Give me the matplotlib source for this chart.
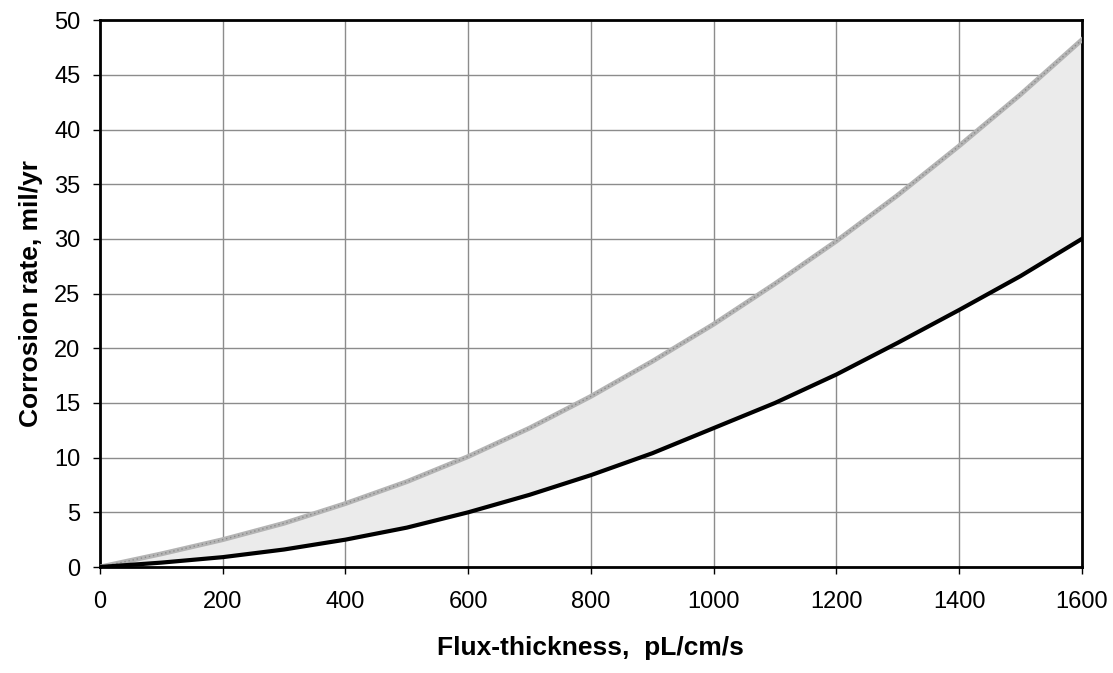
import numpy as np
import matplotlib.pyplot as plt

# Flux-thickness vs corrosion rate band
flux = [0, 100, 200, 300, 400, 500, 600, 700, 800, 900, 1000, 1100, 1200, 1300, 1400, 1500, 1600]
upper = [0, 1.2, 2.5, 4.0, 5.8, 7.8, 10.1, 12.7, 15.6, 18.8, 22.2, 25.9, 29.8, 34.0, 38.5, 43.2, 48.2]
lower = [0, 0.4, 0.9, 1.6, 2.5, 3.6, 5.0, 6.6, 8.4, 10.4, 12.7, 15.0, 17.6, 20.5, 23.5, 26.6, 30.0]

xticks = [0, 200, 400, 600, 800, 1000, 1200, 1400, 1600]
yticks = [0, 5, 10, 15, 20, 25, 30, 35, 40, 45, 50]

plt.rcParams['font.family'] = ['Liberation Sans', 'DejaVu Sans']

fig = plt.figure(figsize=(11.13, 6.73), dpi=100)
ax = fig.add_axes([0.0898, 0.1575, 0.8822, 0.8125])

ax.fill_between(flux, lower, upper, color='#ebebeb', zorder=2)
# upper bound: textured grey line
ax.plot(flux, upper, color='#b4b4b4', lw=3.5, zorder=3)
ax.plot(flux, upper, color='#8a8a8a', lw=1, dashes=(1, 2), zorder=3)
ax.plot(flux, lower, color='black', lw=3, zorder=4)

ax.set_xlim(0, 1600)
ax.set_ylim(0, 50)
ax.set_xticks(xticks)
ax.set_yticks(yticks)
ax.grid(True, color='#8c8c8c', lw=1, zorder=1)
ax.set_axisbelow(True)

for s in ax.spines.values():
    s.set_linewidth(2)
    s.set_color('black')

ax.tick_params(axis='both', direction='out', length=5, width=1, labelsize=17)
ax.tick_params(axis='y', pad=9)
ax.tick_params(axis='x', pad=12)

ax.set_xlabel('Flux-thickness,  pL/cm/s', fontsize=19, fontweight='bold', labelpad=17)
ax.set_ylabel('Corrosion rate, mil/yr', fontsize=19, fontweight='bold', labelpad=8)

fig.savefig('out.png', dpi=100)
